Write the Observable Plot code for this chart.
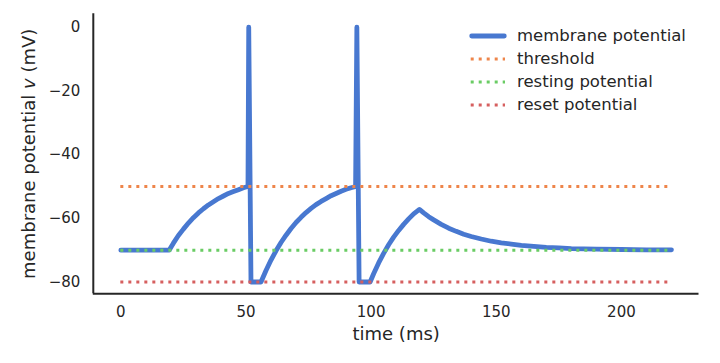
<!DOCTYPE html>
<html>
<head>
<meta charset="utf-8">
<script src="https://cdn.jsdelivr.net/npm/d3@7"></script>
<script src="https://cdn.jsdelivr.net/npm/@observablehq/plot@0.6"></script>
<style>
  html, body { margin: 0; padding: 0; background: white; }
  #wrap { position: relative; width: 720px; height: 363px; font-family: "DejaVu Sans", sans-serif; color: #262626; }
  .lg { position: absolute; font-size: 16.5px; line-height: 17px; white-space: nowrap; }
</style>
</head>
<body>
<div id="wrap"></div>
<script>
// time (ms) and membrane potential (mV)
const time = [0, 19.3, 21, 23, 25, 27, 29, 31, 33, 35, 37, 39, 41, 43, 45, 47, 49, 50.8, 51.1, 52.0, 56.0,
  58, 60, 62, 64, 66, 68, 70, 72, 74, 76, 78, 80, 82, 84, 86, 88, 90, 92, 93.8, 94.3, 95.2, 99.6,
  101, 103, 105, 107, 109, 111, 113, 115, 117, 119.3, 121, 123, 125, 128, 131, 134, 137, 140,
  144, 148, 152, 156, 160, 165, 170, 175, 180, 185, 190, 200, 210, 220];
const potential = [-70, -70, -67.8, -65.4, -63.4, -61.5, -59.8, -58.3, -57.0, -55.8, -54.8, -53.8, -53.0, -52.2, -51.6, -51.0, -50.4, -50.0, 0, -80, -80,
  -76.4, -73.1, -70.2, -67.6, -65.3, -63.2, -61.3, -59.7, -58.2, -56.9, -55.7, -54.7, -53.8, -52.9, -52.2, -51.5, -50.9, -50.4, -50.0, 0, -80, -80,
  -77.4, -74.0, -71.0, -68.3, -65.9, -63.8, -61.9, -60.2, -58.6, -57.2, -58.3, -59.5, -60.5, -61.9, -63.1, -64.1, -65.0, -65.7,
  -66.5, -67.2, -67.7, -68.1, -68.5, -68.8, -69.1, -69.3, -69.5, -69.6, -69.7, -69.8, -69.9, -69.9];

const refNames = ["threshold", "resting potential", "reset potential"];
const refValues = [-50, -70, -80];
const refColors = ["#ee854a", "#6acc64", "#d65f5f"];
const lineName = "membrane potential";
const lineColor = "#4878d0";

const xTicks = [0, 50, 100, 150, 200];
const yTicks = [0, -20, -40, -60, -80];
const xLabel = "time (ms)";
const yLabel = "membrane potential v (mV)";

const xDomain = [-11, 231];
const yDomain = [-83.7, 4.2];

const series = time.map((t, i) => ({t, v: potential[i]}));
const refs = refValues.map((v, i) => ({v, name: refNames[i], color: refColors[i], t0: time[0], t1: time[time.length - 1]}));

const ink = "#262626";
const fmt = d => d < 0 ? "\u2212" + Math.abs(d) : String(d);

const chart = Plot.plot({
  width: 720,
  height: 363,
  marginLeft: 92.8,
  marginRight: 21.5,
  marginTop: 13.3,
  marginBottom: 69.7,
  style: {fontFamily: "DejaVu Sans, sans-serif", fontSize: "15px", color: ink, background: "white", overflow: "visible"},
  x: {domain: xDomain},
  y: {domain: yDomain},
  marks: [
    Plot.axisX(xTicks, {tickSize: 0, tickPadding: 13, fontSize: 15, label: null, tickFormat: fmt, fill: ink}),
    Plot.axisY(yTicks, {tickSize: 0, tickPadding: 13, fontSize: 15, label: null, tickFormat: fmt, fill: ink}),
    Plot.line(series, {x: "t", y: "v", stroke: lineColor, strokeWidth: 4.8, strokeLinejoin: "round", strokeLinecap: "round"}),
    Plot.ruleY(refs, {y: "v", x1: "t0", x2: "t1", stroke: "color", strokeWidth: 3, strokeDasharray: "3 5"}),
    Plot.ruleX([xDomain[0]], {stroke: ink, strokeWidth: 2}),
    Plot.ruleY([yDomain[0]], {stroke: ink, strokeWidth: 2}),
    Plot.text([xLabel], {text: d => d, frameAnchor: "bottom", dy: 40, fontSize: 18, fill: ink, textAnchor: "middle", lineAnchor: "middle"}),
    Plot.text([yLabel], {text: d => d, frameAnchor: "left", dx: -64, rotate: -90, fontSize: 18, fill: ink, textAnchor: "middle", lineAnchor: "middle"})
  ]
});

const wrap = document.getElementById("wrap");
wrap.appendChild(chart);

// italic "v" in the y label
d3.select(chart).selectAll("text").filter(function () { return this.textContent === yLabel; }).each(function () {
  const el = d3.select(this);
  el.attr("text-anchor", "middle");
  el.text(null);
  el.append("tspan").text("membrane potential ");
  el.append("tspan").attr("font-style", "italic").text("v");
  el.append("tspan").text(" (mV)");
});

// legend
const legendItems = [{name: lineName, color: lineColor, dotted: false}]
  .concat(refNames.map((n, i) => ({name: n, color: refColors[i], dotted: true})));
const rowY = [36, 59.3, 82, 105.3];
legendItems.forEach((d, i) => {
  const sw = document.createElementNS("http://www.w3.org/2000/svg", "svg");
  sw.setAttribute("width", 44);
  sw.setAttribute("height", 10);
  sw.style.position = "absolute";
  sw.style.left = "466px";
  sw.style.top = (rowY[i] - 5) + "px";
  const ln = document.createElementNS("http://www.w3.org/2000/svg", "line");
  if (d.dotted) {
    ln.setAttribute("x1", 4.7); ln.setAttribute("x2", 39);
    ln.setAttribute("stroke-width", 3);
    ln.setAttribute("stroke-dasharray", "3 5");
  } else {
    ln.setAttribute("x1", 5.7); ln.setAttribute("x2", 38.3);
    ln.setAttribute("stroke-width", 4.8);
    ln.setAttribute("stroke-linecap", "round");
  }
  ln.setAttribute("y1", 5); ln.setAttribute("y2", 5);
  ln.setAttribute("stroke", d.color);
  sw.appendChild(ln);
  wrap.appendChild(sw);
  const tx = document.createElement("div");
  tx.className = "lg";
  tx.textContent = d.name;
  tx.style.left = "517px";
  tx.style.top = (rowY[i] - 9.5) + "px";
  wrap.appendChild(tx);
});
</script>
</body>
</html>
